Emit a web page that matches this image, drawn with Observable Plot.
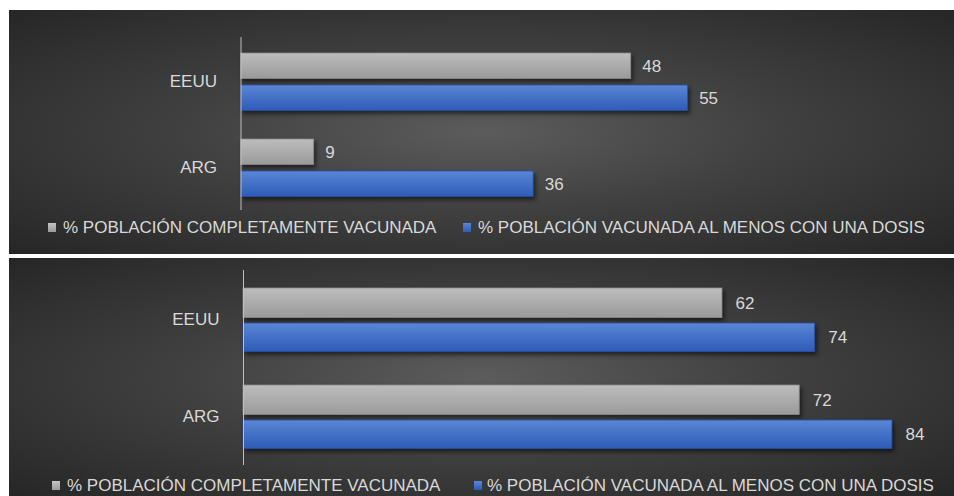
<!DOCTYPE html>
<html>
<head>
<meta charset="utf-8">
<script src="https://cdn.jsdelivr.net/npm/d3@7"></script>
<script src="https://cdn.jsdelivr.net/npm/@observablehq/plot@0.6"></script>
<style>
  html, body { margin: 0; padding: 0; background: #ffffff; width: 954px; height: 496px; overflow: hidden; }
  .panel { position: absolute; left: 9px; width: 945px; overflow: hidden;
    background: radial-gradient(ellipse farthest-corner at 50% 50%, #5c5c5c 0%, #404040 45%, #262626 100%);
    font-family: "Liberation Sans", Arial, sans-serif; }
  .panel svg { position: absolute; left: 0; top: 0; overflow: visible; }
  .legend { position: absolute; font-size: 17px; color: #d9d9d9; white-space: nowrap; line-height: 18px; }
  .legend .sw { position: absolute; width: 8px; height: 9px; top: 4px; }
  .legend .lbl { position: absolute; top: 0; }
  .bars rect { filter: drop-shadow(2px 3px 2px rgba(0,0,0,0.55)); }
</style>
</head>
<body>
<svg width="0" height="0" style="position:absolute">
  <defs>
    <linearGradient id="gradGray" x1="0" y1="0" x2="0" y2="1">
      <stop offset="0" stop-color="#bdbdbd"/>
      <stop offset="1" stop-color="#9a9a9a"/>
    </linearGradient>
    <linearGradient id="gradBlue" x1="0" y1="0" x2="0" y2="1">
      <stop offset="0" stop-color="#5b86d6"/>
      <stop offset="1" stop-color="#2d5bb7"/>
    </linearGradient>
  </defs>
</svg>
<div id="p1" class="panel" style="top:10px;height:244px;"></div>
<div id="p2" class="panel" style="top:258px;height:238px;"></div>
<script>
// ---- data ----
const categories = ["EEUU", "ARG"];
const seriesNames = ["% POBLACIÓN COMPLETAMENTE VACUNADA", "% POBLACIÓN VACUNADA AL MENOS CON UNA DOSIS"];
const completa1 = [48, 9];
const unaDosis1 = [55, 36];
const completa2 = [62, 72];
const unaDosis2 = [74, 84];

function rows(vals) { return categories.map((c, i) => ({cat: c, v: vals[i]})); }

function drawChart(el, cfg) {
  const gray = rows(cfg.completa), blue = rows(cfg.dosis);
  const chart = Plot.plot({
    width: 945, height: cfg.height,
    marginTop: cfg.mt, marginBottom: cfg.mb, marginLeft: cfg.ml, marginRight: cfg.mr,
    style: {background: "transparent", color: "#d9d9d9", fontFamily: "'Liberation Sans', Arial, sans-serif", fontSize: "17px", overflow: "visible"},
    x: {domain: cfg.xdomain, axis: null},
    y: {domain: categories, padding: 0, label: null},
    marks: [
      Plot.axisY({tickSize: 0, tickPadding: 24, fontSize: 17, label: null}),
      Plot.barX(gray, {x: "v", y: "cat", fill: "url(#gradGray)", stroke: "#8a8a8a", strokeWidth: 0.8,
        insetTop: cfg.g[0], insetBottom: cfg.g[1], className: "bars"}),
      Plot.barX(blue, {x: "v", y: "cat", fill: "url(#gradBlue)", stroke: "#2a4f9e", strokeWidth: 0.8,
        insetTop: cfg.b[0], insetBottom: cfg.b[1], className: "bars"}),
      Plot.ruleX([0], {stroke: "#bfbfbf", strokeWidth: 1}),
      Plot.text(gray, {x: "v", y: "cat", text: d => String(d.v), dx: cfg.dx, dy: cfg.gdy, textAnchor: "start", fill: "#d9d9d9", fontSize: 17}),
      Plot.text(blue, {x: "v", y: "cat", text: d => String(d.v), dx: cfg.dx, dy: cfg.bdy, textAnchor: "start", fill: "#d9d9d9", fontSize: 17})
    ]
  });
  el.appendChild(chart);
  const lg = document.createElement("div");
  lg.className = "legend";
  lg.style.left = "0px"; lg.style.top = cfg.legTop + "px"; lg.style.width = "945px"; lg.style.height = "18px";
  lg.innerHTML =
    `<span class="sw" style="left:${cfg.leg[0]}px;background:linear-gradient(#c4c4c4,#9a9a9a)"></span>` +
    `<span class="lbl" style="left:${cfg.leg[1]}px">${seriesNames[0]}</span>` +
    `<span class="sw" style="left:${cfg.leg[2]}px;background:linear-gradient(#5b86d6,#2d5bb7)"></span>` +
    `<span class="lbl" style="left:${cfg.leg[3]}px">${seriesNames[1]}</span>`;
  el.appendChild(lg);
}

drawChart(document.getElementById("p1"), {
  completa: completa1, dosis: unaDosis1, height: 244,
  mt: 27, mb: 44, ml: 231.5, mr: 225.7, xdomain: [0, 60],
  g: [15, 45.5], b: [47, 13.5], gdy: -15.25, bdy: 16.75, dx: 11,
  legTop: 209, leg: [39, 54, 454, 469]
});
drawChart(document.getElementById("p2"), {
  completa: completa2, dosis: unaDosis2, height: 238,
  mt: 12, mb: 31, ml: 234, mr: 15.7, xdomain: [0, 90],
  g: [17, 50.5], b: [52, 16.5], gdy: -16.75, bdy: 17.75, dx: 13,
  legTop: 219, leg: [43, 58, 465, 478]
});
</script>
</body>
</html>
